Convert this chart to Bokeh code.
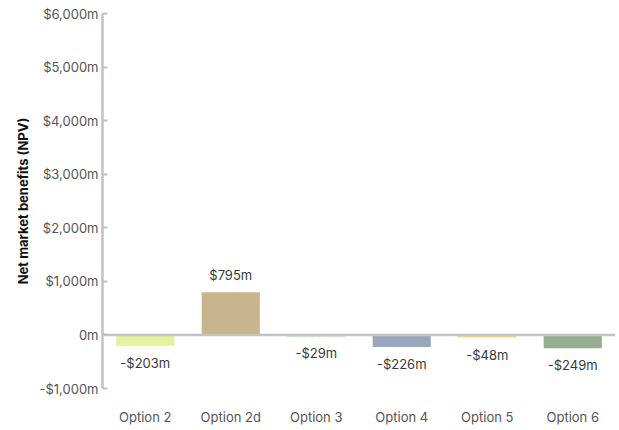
from bokeh.plotting import figure
from bokeh.models import ColumnDataSource, FactorRange, Range1d, Span, FixedTicker
from bokeh.core.properties import value
from bokeh.embed import file_html
from bokeh.resources import INLINE

# Net market benefits by option ($m, NPV)
options = ["Option 2", "Option 2d", "Option 3", "Option 4", "Option 5", "Option 6"]
benefits = [-203, 795, -29, -226, -48, -249]
bar_colors = ["#e3f29c", "#c8b48d", "#a6d49e", "#9aa6bb", "#f5d690", "#94ae8f"]

y_ticks = [-1000, 0, 1000, 2000, 3000, 4000, 5000, 6000]
y_tick_labels = ["-$1,000m", "0m", "$1,000m", "$2,000m", "$3,000m",
                 "$4,000m", "$5,000m", "$6,000m"]

FONT = "Inter"
GREY = "#c2c2c2"


def money(v):
    return ("-$" if v < 0 else "$") + f"{abs(v):,}m"


labels = [money(v) for v in benefits]
pos = [v >= 0 for v in benefits]

src = ColumnDataSource(dict(x=options, top=benefits, color=bar_colors))
src_pos = ColumnDataSource(dict(
    x=[o for o, p in zip(options, pos) if p],
    y=[v for v, p in zip(benefits, pos) if p],
    t=[l for l, p in zip(labels, pos) if p]))
src_neg = ColumnDataSource(dict(
    x=[o for o, p in zip(options, pos) if not p],
    y=[v for v, p in zip(benefits, pos) if not p],
    t=[l for l, p in zip(labels, pos) if not p]))

p = figure(width=619, height=430, output_backend="svg", toolbar_location=None,
           x_range=FactorRange(*options, range_padding=0.0),
           y_range=Range1d(-1000, 6000))
p.min_border_left = 102
p.min_border_right = 4
p.min_border_top = 13
p.min_border_bottom = 42
p.outline_line_color = None
p.grid.visible = False
p.background_fill_color = "white"
p.border_fill_color = "white"

p.vbar(x="x", top="top", bottom=0, width=0.68, color="color", source=src,
       line_color=None)

# zero baseline across the plot
p.add_layout(Span(location=0, dimension="width", line_color=GREY, line_width=2.5))

p.text(x="x", y="y", text="t", source=src_pos, text_align="center",
       text_baseline="bottom", y_offset=-9, text_font=value(FONT),
       text_font_size="13px", text_color="#3a3a3a")
p.text(x="x", y="y", text="t", source=src_neg, text_align="center",
       text_baseline="top", y_offset=9, text_font=value(FONT),
       text_font_size="13px", text_color="#3a3a3a")

# y axis
ya = p.yaxis[0]
ya.ticker = FixedTicker(ticks=y_ticks)
ya.major_label_overrides = {t: l for t, l in zip(y_ticks, y_tick_labels)}
ya.axis_line_color = GREY
ya.axis_line_width = 2.5
ya.major_tick_line_color = GREY
ya.major_tick_line_width = 2
ya.major_tick_in = 5
ya.major_tick_out = 0
ya.minor_tick_line_color = None
ya.major_label_standoff = 4
ya.major_label_text_font = FONT
ya.major_label_text_font_size = "13px"
ya.major_label_text_color = "#555555"
ya.axis_label = "Net market benefits (NPV)"
ya.axis_label_text_font = FONT
ya.axis_label_text_font_size = "13px"
ya.axis_label_text_font_style = "bold"
ya.axis_label_text_color = "#111111"
ya.axis_label_standoff = 5

# x axis: labels only
xa = p.xaxis[0]
xa.axis_line_color = None
xa.major_tick_line_color = None
xa.minor_tick_line_color = None
xa.major_tick_in = 0
xa.major_tick_out = 0
xa.major_label_standoff = 20
xa.major_label_text_font = FONT
xa.major_label_text_font_size = "13px"
xa.major_label_text_color = "#555555"

open("out.html", "w").write(file_html(p, INLINE))
